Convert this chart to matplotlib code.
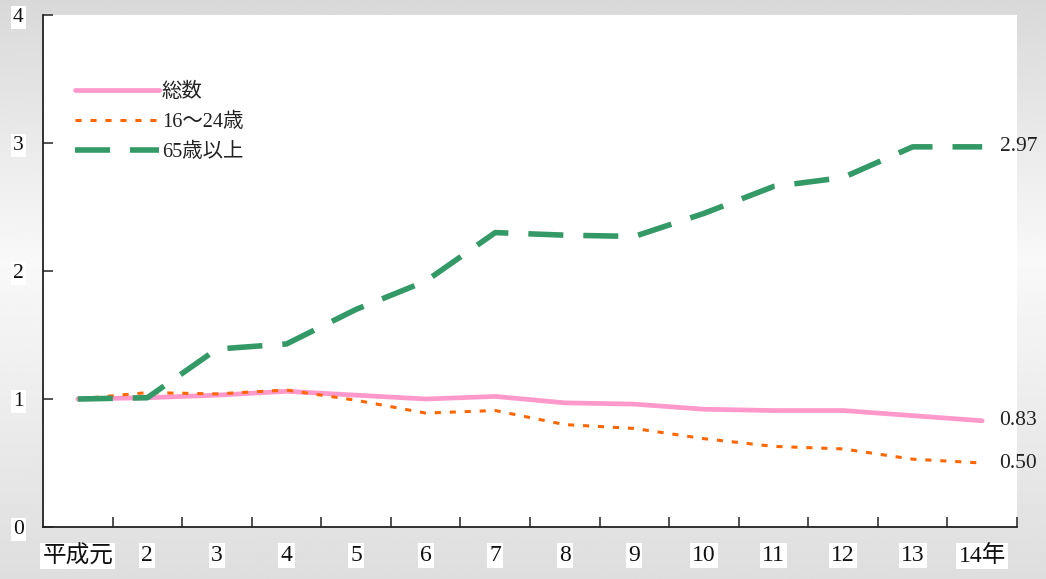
import numpy as np
import matplotlib
matplotlib.use('Agg')
import matplotlib.pyplot as plt
from matplotlib.ticker import FixedLocator

categories = ['平成元', '2', '3', '4', '5', '6', '7', '8', '9', '10', '11', '12', '13', '14年']
total = [1.00, 1.01, 1.03, 1.06, 1.03, 1.00, 1.02, 0.97, 0.96, 0.92, 0.91, 0.91, 0.87, 0.83]
youth = [1.00, 1.05, 1.04, 1.07, 0.99, 0.89, 0.91, 0.80, 0.77, 0.69, 0.63, 0.61, 0.53, 0.50]
elderly = [1.00, 1.01, 1.39, 1.43, 1.70, 1.92, 2.30, 2.28, 2.27, 2.45, 2.66, 2.73, 2.97, 2.97]
series_names = ['総数', '16～24歳', '65歳以上']
end_labels = ['0.83', '0.50', '2.97']
yticks = [0, 1, 2, 3, 4]

FAM = ['Liberation Serif', 'Noto Sans CJK JP', 'DejaVu Sans']
plt.rcParams['font.family'] = FAM

fig = plt.figure(figsize=(10.46, 5.79), dpi=100)

# background gradient
bg = fig.add_axes([0, 0, 1, 1], zorder=-10)
yy = np.linspace(0, 1, 300)
vals = np.interp(yy, [0, 0.45, 1], [0.85, 0.975, 0.87])
img = np.tile(vals[:, None], (1, 2))
bg.imshow(img, cmap='gray', vmin=0, vmax=1, aspect='auto', extent=[0, 1, 0, 1], origin='upper')
bg.axis('off')

W, H = 1046, 579
ax = fig.add_axes([43 / W, 1 - 527 / H, (1017 - 43) / W, (527 - 15) / H])
ax.set_facecolor('white')

x = np.arange(len(categories))
ax.plot(x, total, color='#ff99cc', lw=3.4, solid_capstyle='round', label=series_names[0], zorder=3)
ax.plot(x, youth, color='#ff6600', lw=2.2, linestyle=(0, (2.0, 2.9)), dash_capstyle='butt',
        label=series_names[1], zorder=4)
ax.plot(x, elderly, color='#339966', lw=4.0, linestyle=(0, (6.3, 3.6)), dash_capstyle='butt',
        label=series_names[2], zorder=5)

for val, lab in zip([total[-1], youth[-1], elderly[-1]], end_labels):
    ax.annotate(lab, xy=(x[-1], val), xytext=(12.5, 0), textcoords='offset points',
                ha='left', va='center', fontsize=15.5, color='#222222', annotation_clip=False)

ax.set_xlim(-0.5, len(categories) - 0.5)
ax.set_ylim(0, 4)

ax.xaxis.set_major_locator(FixedLocator(x))
ax.set_xticklabels(categories)
ax.xaxis.set_minor_locator(FixedLocator(np.arange(0.5, len(categories), 1.0)))
ax.tick_params(axis='x', which='major', length=0, pad=13, labelsize=17, labelcolor='#111111')
ax.tick_params(axis='x', which='minor', length=7, width=1.2, direction='in', color='#333333')

ax.set_yticks(yticks)
ax.set_yticklabels([str(v) for v in yticks])
ax.tick_params(axis='y', which='major', length=7, width=1.2, direction='in', pad=14,
               labelsize=15.5, color='#333333', labelcolor='#111111')

for lbl in ax.get_xticklabels() + ax.get_yticklabels():
    lbl.set_bbox(dict(facecolor='white', edgecolor='none', pad=1.5))

for side in ['top', 'right']:
    ax.spines[side].set_visible(False)
for side in ['left', 'bottom']:
    ax.spines[side].set_color('#222222')
    ax.spines[side].set_linewidth(1.3)

leg = ax.legend(loc='upper left', bbox_to_anchor=(0.033, 0.868), frameon=False, fontsize=14.7,
                handlelength=4.1, handletextpad=0.15, labelspacing=0.52, borderaxespad=0, borderpad=0)
for t in leg.get_texts():
    t.set_color('#222222')

fig.savefig('out.png', dpi=100)
